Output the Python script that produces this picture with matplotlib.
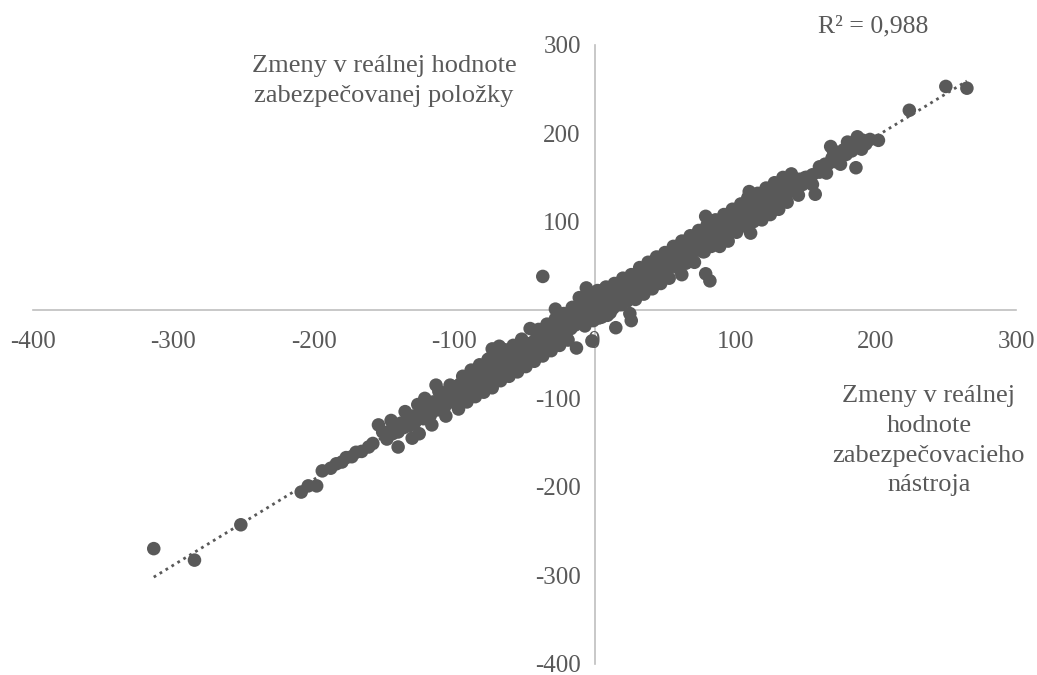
import numpy as np
import matplotlib.pyplot as plt

plt.rcParams['font.family'] = ['Liberation Serif', 'DejaVu Serif']
plt.rcParams['axes.unicode_minus'] = False

# change in fair value of the hedging instrument (x) vs. hedged item (y)
instrument = [
    -314, -285, -252, -209, -204, -198, -194, -188, -184, -180, -177, -173, -170, -166, -161, -158, -154, -151,
    -148, -146, -144, -142, -140, -138, -136, -134, -132, -130, -128, -126, -124, -122, -120, -118, -117, -115,
    -113, -112, -110, -108, -107, -105, -104, -102, -101, -100, -99,
    -98, -97, -96, -95, -94, -93, -92, -91, -90, -89, -88, -87, -86, -85, -84, -83, -82, -81, -80, -79, -78, -77,
    -76, -75, -74, -73, -73, -72, -71, -70, -68, -67, -66, -65, -63, -62, -60, -59, -57, -56, -54, -54, -53, -51,
    -50, -49, -48, -47, -46, -45, -44, -43, -42, -41, -40, -39, -38, -37, -36, -35, -34, -33, -32, -31, -30, -29,
    -28, -27, -26, -25, -24, -23, -22, -21, -20, -19, -18, -17, -16, -15, -14, -13, -12, -11, -10, -9, -8, -7,
    -6, -5, -4, -3, -2, -1, 0, 0, 1, 2,
    3, 4, 5, 6, 7, 8, 9, 10, 11, 12, 13, 14, 15, 16, 17, 18, 19, 20, 21, 22, 23, 24, 25, 26, 27, 28, 29, 30,
    31, 32, 33, 34, 35, 36, 37, 38, 39, 40, 41, 42, 43, 44, 45, 46, 47, 48, 49,
    50, 51, 52, 53, 54, 55, 56, 57, 58, 59, 60, 61, 62, 63, 64, 65, 66, 67, 68, 69, 70, 71, 72, 73, 74, 75, 76,
    77, 78, 79, 79, 80, 81, 82, 83, 84, 85, 86, 87, 88, 89, 90, 92, 93, 95, 96, 98, 99,
    100, 101, 102, 104, 105, 106, 108, 109, 110, 111, 112, 113, 114, 116, 117, 118, 120, 121, 122, 124, 125,
    127, 128, 130, 131, 133, 135, 136, 138, 140, 142, 144, 146, 148,
    151, 153, 155, 157, 160, 163, 164, 166, 168, 169, 171, 173, 175, 177, 179, 181, 183, 185, 186, 187, 188,
    189, 191, 193, 196, 202, 224, 250, 265,
    -145, -140, -135, -130, -125, -121, -116, -111, -106, -103, -97, -94, -91, -88, -85, -82, -79, -76, -73,
    -70, -67, -64, -61, -58, -55, -52, -49, -43, -40, -37, -34, -31, -28, -25, -22, -19, -16, -10, -7, -4, -1,
    2, 5, 8, 11, 14, 17, 20, 23, 26, 29, 32, 35, 38, 41, 44, 47, 50, 53, 56, 59, 62, 65, 68, 71, 74, 77, 80,
    83, 86, 89, 92, 95, 98, 101, 104, 107, 110, 113, 116, 119, 122, 125, 128, 131, 134, 137, 140, 145, 150,
    155, 160, 165, 170, 175, 180, 190,
]
hedged_item = [
    -270, -283, -243, -206, -199, -199, -182, -179, -174, -172, -167, -166, -161, -160, -155, -151, -130, -138,
    -146, -137, -140, -133, -138, -128, -133, -126, -131, -120, -127, -107, -117, -123, -112, -108, -119, -104,
    -85, -113, -100, -96, -110, -98, -91, -104, -93, -87, -101,
    -90, -98, -84, -96, -88, -79, -93, -85, -80, -91, -76, -88, -81, -73, -86, -78, -70, -83, -74, -66, -79, -72,
    -63, -55, -76, -68, -44, -62, -72, -64, -41, -60, -68, -57, -64, -53, -61, -50, -58, -47, -55, -66, -45, -52,
    -44, -56, -38, -50, -21, -42, -52, -35, -46, -31, -40, -49, -29, 38, -38, -26, -42, -30, -22, -36, -20, -33,
    1, -24, -16, -30, -13, -27, -19, -9, -25, -12, -4, -21, -10, -2, -17, -43, -6, 14, -13, -1, 5, -10,
    25, 2, -8, 9, -35, 4, 18, -5, 12, 3,
    -9, 10, 22, -2, 12, 4, -6, 15, 7, 24, 2, 17, -20, 10, 25, 14, 6, 20, 30, 12, 22, 16, -4, -12, 28, 20, 36, 26,
    18, 33, 40, 27, 38, 30, 44, 35, 28, 42, 50, 36, 46, 40, 53, 44, 38, 51, 46,
    57, 45, 53, 60, 49, 56, 63, 52, 58, 66, 55, 62, 40, 68, 58, 65, 74, 62, 70, 77, 66, 73, 80, 68, 76, 70, 82,
    74, 66, 41, 106, 79, 87, 33, 76, 84, 92, 80, 88, 96, 84, 92, 87, 98, 90, 102, 94, 108,
    104, 112, 96, 108, 117, 100, 112, 127, 104, 87, 116, 122, 108, 118, 126, 112, 121, 129, 114, 125, 133,
    119, 128, 136, 122, 132, 140, 127, 144, 135, 145, 138, 148, 142,
    150, 145, 153, 131, 156, 160, 165, 165, 185, 172, 168, 178, 174, 181, 176, 185, 180, 190, 161, 196, 194,
    186, 192, 188, 193, 192, 226, 253, 251,
    -125, -155, -115, -145, -140, -100, -130, -92, -120, -85, -112, -75, -104, -68, -98, -62, -93, -56, -88,
    -52, -80, -45, -75, -40, -70, -33, -64, -58, -22, -52, -16, -46, -10, -40, -4, -34, 3, 8, -18, 15, -12,
    22, -8, 26, -3, 30, 6, 36, 10, 40, 12, 48, 18, 54, 24, 60, 30, 65, 36, 72, 48, 78, 53, 84, 54, 90, 66, 96,
    72, 102, 72, 108, 78, 114, 88, 120, 95, 134, 100, 132, 102, 138, 108, 144, 114, 150, 122, 154, 130, 150,
    142, 162, 155, 180, 165, 190, 182,
]
x_ticks = [-400, -300, -200, -100, 0, 100, 200, 300]
y_ticks = [-400, -300, -200, -100, 0, 100, 200, 300]
r2_label = 'R² = 0,988'

grey = '#595959'
x = np.array(instrument, dtype=float)
y = np.array(hedged_item, dtype=float)

fig = plt.figure(figsize=(10.37, 6.75), dpi=100)
ax = fig.add_axes([0.0318, 0.017, 0.948, 0.9165])
ax.set_axisbelow(False)

ax.scatter(x, y, s=95, color=grey, edgecolors='none', zorder=2)

# linear trend line over the data range
k, q = np.polyfit(x, y, 1)
xs = np.array([x.min(), x.max()])
ax.plot(xs, k * xs + q, color=grey, lw=2.0, linestyle=(0, (1, 1.5)), zorder=2.2)

ax.set_xlim(-400, 300)
ax.set_ylim(-400, 300)
for side in ('top', 'right'):
    ax.spines[side].set_visible(False)
ax.spines['left'].set_position(('data', 0))
ax.spines['bottom'].set_position(('data', 0))
for side in ('left', 'bottom'):
    ax.spines[side].set_color('#BFBFBF')
    ax.spines[side].set_linewidth(1.2)
    ax.spines[side].set_zorder(1)

ax.set_xticks(x_ticks)
ax.set_yticks(y_ticks)
ax.tick_params(axis='both', length=0, labelsize=18, labelcolor=grey)
ax.tick_params(axis='x', pad=15)
ax.tick_params(axis='y', pad=10)
ax.patch.set_alpha(0)

ax.text(-150, 259, 'Zmeny v reálnej hodnote\nzabezpečovanej položky', ha='center', va='center',
        fontsize=19, color=grey, linespacing=1.5)
ax.text(238, -148, 'Zmeny v reálnej\nhodnote\nzabezpečovacieho\nnástroja', ha='center', va='center',
        fontsize=19, color=grey, linespacing=1.45)
ax.text(198, 321, r2_label, ha='center', va='center', fontsize=18.5, color=grey)

fig.savefig('out.png', dpi=100)
